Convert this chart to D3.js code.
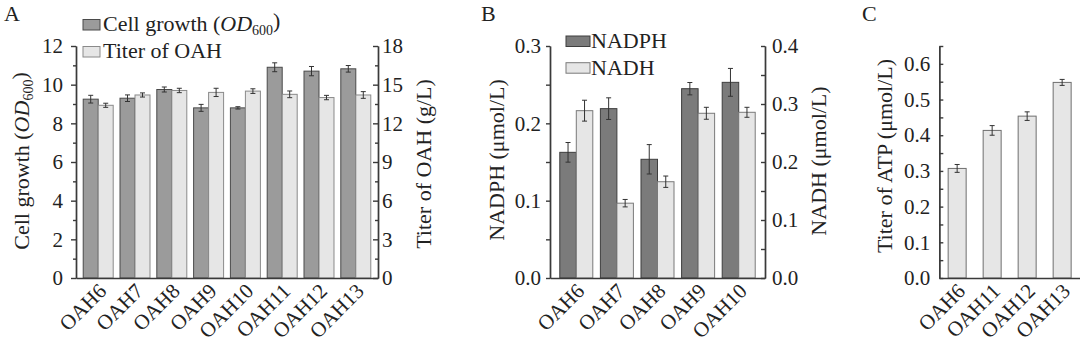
<!DOCTYPE html>
<html>
<head>
<meta charset="utf-8">
<script src="https://cdn.jsdelivr.net/npm/d3@7"></script>
<style>
  body { margin: 0; background: #fff; }
  svg { display: block; font-family: "Liberation Serif", "DejaVu Serif", serif; }
  .axis path, .axis line { stroke: #3a3a3a; stroke-width: 1.4; }
  .axis text { font-size: 21px; fill: #222; font-family: "Liberation Serif", serif; }
</style>
</head>
<body>
<script>
// panel A
var strainsA = ['OAH6', 'OAH7', 'OAH8', 'OAH9', 'OAH10', 'OAH11', 'OAH12', 'OAH13'];
var growth = [9.25, 9.3, 9.75, 8.8, 8.8, 10.9, 10.7, 10.82];
var growthErr = [0.2, 0.17, 0.13, 0.18, 0.06, 0.23, 0.24, 0.17];
var titerOAH = [13.4, 14.2, 14.55, 14.4, 14.5, 14.25, 14.0, 14.2];
var titerOAHErr = [0.16, 0.16, 0.17, 0.32, 0.18, 0.26, 0.17, 0.26];
var ticksA = [0, 2, 4, 6, 8, 10, 12];
var ticksA2 = [0, 3, 6, 9, 12, 15, 18];

// panel B
var strainsB = ['OAH6', 'OAH7', 'OAH8', 'OAH9', 'OAH10'];
var nadph = [0.1625, 0.219, 0.1535, 0.2448, 0.253];
var nadphErr = [0.0127, 0.014, 0.019, 0.008, 0.018];
var nadh = [0.2885, 0.129, 0.166, 0.284, 0.2857];
var nadhErr = [0.018, 0.0064, 0.0098, 0.0103, 0.0086];
var ticksB = [0, 0.1, 0.2, 0.3];
var ticksB2 = [0, 0.1, 0.2, 0.3, 0.4];

// panel C
var strainsC = ['OAH6', 'OAH11', 'OAH12', 'OAH13'];
var atp = [0.307, 0.4135, 0.4535, 0.548];
var atpErr = [0.011, 0.0135, 0.012, 0.0084];
var ticksC = [0, 0.1, 0.2, 0.3, 0.4, 0.5, 0.6];

var width = 1080, height = 347;
var plotTop = 46, plotBottom = 278;

var svg = d3.select('body').append('svg')
    .attr('width', width)
    .attr('height', height);

function minors(major) {
    var out = [];
    for (var i = 0; i < major.length - 1; i++) out.push((major[i] + major[i + 1]) / 2);
    return out;
}

function errBar(g, x, y, v, e, cap) {
    g.append('line').attr('x1', x).attr('x2', x).attr('y1', y(v - e)).attr('y2', y(v + e))
        .attr('stroke', '#333').attr('stroke-width', 1);
    [v - e, v + e].forEach(function (t) {
        g.append('line').attr('x1', x - cap).attr('x2', x + cap).attr('y1', y(t)).attr('y2', y(t))
            .attr('stroke', '#333').attr('stroke-width', 1);
    });
}

function xLabels(x, cats) {
    svg.append('g')
        .selectAll('text')
        .data(cats)
        .join('text')
        .attr('transform', function (d) {
            return 'translate(' + (x(d) + x.bandwidth() / 2 - 1) + ',' + (plotBottom + 4) + ') rotate(-45)';
        })
        .attr('text-anchor', 'end')
        .attr('dy', '0.7em')
        .style('font-size', '21px')
        .style('fill', '#222')
        .text(function (d) { return d; });
}

function vTitle(x, y, parts) {
    var t = svg.append('text')
        .attr('transform', 'translate(' + x + ',' + y + ') rotate(-90)')
        .attr('text-anchor', 'middle')
        .style('font-size', '22px')
        .style('fill', '#222');
    parts.forEach(function (p) {
        var s = t.append('tspan').text(p.t);
        if (p.i) s.style('font-style', 'italic');
        if (p.sub) s.style('font-size', '14px').attr('dy', '0.3em');
        if (p.up) s.attr('dy', '-0.3em');
    });
    return t;
}

function panelLetter(x, s) {
    svg.append('text').attr('x', x).attr('y', 21).style('font-size', '22px').style('fill', '#222').text(s);
}

// ---------- Panel A ----------
var xA = d3.scaleBand().domain(strainsA).range([76, 378]).paddingInner(0.185).paddingOuter(0.196);
var subA = d3.scaleBand().domain([0, 1]).range([0, xA.bandwidth()]);
var yA = d3.scaleLinear().domain([0, 12]).range([plotBottom, plotTop]);
var yA2 = d3.scaleLinear().domain([0, 18]).range([plotBottom, plotTop]);

var gA = svg.append('g');
gA.selectAll('rect.g')
    .data(strainsA)
    .join('rect')
    .attr('x', function (d) { return xA(d); })
    .attr('y', function (d, i) { return yA(growth[i]); })
    .attr('width', subA.bandwidth())
    .attr('height', function (d, i) { return plotBottom - yA(growth[i]); })
    .attr('fill', '#9b9b9b').attr('stroke', '#4a4a4a').attr('stroke-width', 1);
gA.selectAll('rect.t')
    .data(strainsA)
    .join('rect')
    .attr('x', function (d) { return xA(d) + subA(1); })
    .attr('y', function (d, i) { return yA2(titerOAH[i]); })
    .attr('width', subA.bandwidth())
    .attr('height', function (d, i) { return plotBottom - yA2(titerOAH[i]); })
    .attr('fill', '#e6e6e6').attr('stroke', '#8a8a8a').attr('stroke-width', 1);
strainsA.forEach(function (d, i) {
    errBar(gA, xA(d) + subA.bandwidth() / 2, yA, growth[i], growthErr[i], 2.5);
    errBar(gA, xA(d) + subA(1) + subA.bandwidth() / 2, yA2, titerOAH[i], titerOAHErr[i], 2.5);
});

svg.append('g').attr('class', 'axis').attr('transform', 'translate(76,0)')
    .call(d3.axisLeft(yA).tickValues(ticksA).tickSize(5).tickPadding(8).tickSizeOuter(0));
svg.append('g').attr('class', 'axis').attr('transform', 'translate(76,0)')
    .call(d3.axisLeft(yA).tickValues(minors(ticksA)).tickSize(3).tickFormat('').tickSizeOuter(0));
svg.append('g').attr('class', 'axis').attr('transform', 'translate(378,0)')
    .call(d3.axisRight(yA2).tickValues(ticksA2).tickSizeInner(-5).tickPadding(4).tickSizeOuter(0));
svg.append('g').attr('class', 'axis').attr('transform', 'translate(378,0)')
    .call(d3.axisRight(yA2).tickValues(minors(ticksA2)).tickSizeInner(-3).tickFormat('').tickSizeOuter(0));
svg.append('g').attr('class', 'axis').attr('transform', 'translate(0,' + plotBottom + ')')
    .call(d3.axisBottom(d3.scaleLinear().range([76, 378])).ticks(0).tickSizeOuter(0));
xLabels(xA, strainsA);

vTitle(29, 161, [{ t: 'Cell growth (' }, { t: 'OD', i: true }, { t: '600', sub: true }, { t: ')', up: true }]);
vTitle(431, 164, [{ t: 'Titer of OAH (g/L)' }]);
panelLetter(4, 'A');

// legend A
var legA = [{ t: 'Cell growth (', fill: '#9b9b9b', stroke: '#4a4a4a' }, { t: 'Titer of OAH', fill: '#e6e6e6', stroke: '#8a8a8a' }];
legA.forEach(function (l, i) {
    var y0 = 19.5 + i * 27;
    svg.append('rect').attr('x', 83).attr('y', y0).attr('width', 17).attr('height', 10.5)
        .attr('fill', l.fill).attr('stroke', l.stroke).attr('stroke-width', 1);
    var t = svg.append('text').attr('x', 103).attr('y', y0 + 11).style('font-size', '22px').style('fill', '#222');
    t.append('tspan').text(l.t);
    if (i === 0) {
        t.append('tspan').text('OD').style('font-style', 'italic');
        t.append('tspan').text('600').style('font-size', '14px').attr('dy', '0.3em');
        t.append('tspan').text(')').attr('dy', '-0.3em');
    }
});

// ---------- Panel B ----------
var xB = d3.scaleBand().domain(strainsB).range([550, 765]).paddingInner(0.187).paddingOuter(0.241);
var subB = d3.scaleBand().domain([0, 1]).range([0, xB.bandwidth()]);
var yB = d3.scaleLinear().domain([0, 0.3]).range([plotBottom, plotTop]);
var yB2 = d3.scaleLinear().domain([0, 0.4]).range([plotBottom, plotTop]);

var gB = svg.append('g');
gB.selectAll('rect.p')
    .data(strainsB)
    .join('rect')
    .attr('x', function (d) { return xB(d); })
    .attr('y', function (d, i) { return yB(nadph[i]); })
    .attr('width', subB.bandwidth())
    .attr('height', function (d, i) { return plotBottom - yB(nadph[i]); })
    .attr('fill', '#7b7b7b').attr('stroke', '#3e3e3e').attr('stroke-width', 1);
gB.selectAll('rect.h')
    .data(strainsB)
    .join('rect')
    .attr('x', function (d) { return xB(d) + subB(1); })
    .attr('y', function (d, i) { return yB2(nadh[i]); })
    .attr('width', subB.bandwidth())
    .attr('height', function (d, i) { return plotBottom - yB2(nadh[i]); })
    .attr('fill', '#e6e6e6').attr('stroke', '#7a7a7a').attr('stroke-width', 1);
strainsB.forEach(function (d, i) {
    errBar(gB, xB(d) + subB.bandwidth() / 2, yB, nadph[i], nadphErr[i], 2.5);
    errBar(gB, xB(d) + subB(1) + subB.bandwidth() / 2, yB2, nadh[i], nadhErr[i], 2.5);
});

svg.append('g').attr('class', 'axis').attr('transform', 'translate(550,0)')
    .call(d3.axisLeft(yB).tickValues(ticksB).tickSize(4).tickPadding(5).tickFormat(d3.format('.1f')).tickSizeOuter(0));
svg.append('g').attr('class', 'axis').attr('transform', 'translate(550,0)')
    .call(d3.axisLeft(yB).tickValues(minors(ticksB)).tickSize(4).tickFormat('').tickSizeOuter(0));
svg.append('g').attr('class', 'axis').attr('transform', 'translate(765,0)')
    .call(d3.axisRight(yB2).tickValues(ticksB2).tickSizeInner(-4).tickPadding(7).tickFormat(d3.format('.1f')).tickSizeOuter(0));
svg.append('g').attr('class', 'axis').attr('transform', 'translate(765,0)')
    .call(d3.axisRight(yB2).tickValues(minors(ticksB2)).tickSizeInner(-4).tickFormat('').tickSizeOuter(0));
svg.append('g').attr('class', 'axis').attr('transform', 'translate(0,' + plotBottom + ')')
    .call(d3.axisBottom(d3.scaleLinear().range([550, 765])).ticks(0).tickSizeOuter(0));
xLabels(xB, strainsB);

vTitle(504, 160, [{ t: 'NADPH (μmol/L)' }]);
vTitle(826, 161, [{ t: 'NADH (μmol/L)' }]);
panelLetter(481, 'B');

var legB = [{ t: 'NADPH', fill: '#7b7b7b', stroke: '#3e3e3e' }, { t: 'NADH', fill: '#e6e6e6', stroke: '#7a7a7a' }];
legB.forEach(function (l, i) {
    var y0 = 36 + i * 26.7;
    svg.append('rect').attr('x', 566).attr('y', y0).attr('width', 24).attr('height', 10.5)
        .attr('fill', l.fill).attr('stroke', l.stroke).attr('stroke-width', 1);
    svg.append('text').attr('x', 591).attr('y', y0 + 12).style('font-size', '22px').style('fill', '#222').text(l.t);
});

// ---------- Panel C ----------
var xC = d3.scaleBand().domain(strainsC).range([939.3, 1080]).paddingInner(0.486).paddingOuter(0.253);
var yC = d3.scaleLinear().domain([0, 0.65]).range([plotBottom, plotTop]);

var gC = svg.append('g');
gC.selectAll('rect')
    .data(strainsC)
    .join('rect')
    .attr('x', function (d) { return xC(d); })
    .attr('y', function (d, i) { return yC(atp[i]); })
    .attr('width', xC.bandwidth())
    .attr('height', function (d, i) { return plotBottom - yC(atp[i]); })
    .attr('fill', '#e6e6e6').attr('stroke', '#6e6e6e').attr('stroke-width', 1);
strainsC.forEach(function (d, i) {
    errBar(gC, xC(d) + xC.bandwidth() / 2, yC, atp[i], atpErr[i], 2.5);
});

svg.append('g').attr('class', 'axis').attr('transform', 'translate(939.3,0)')
    .call(d3.axisLeft(yC).tickValues(ticksC).tickSizeInner(-4).tickPadding(9).tickFormat(d3.format('.1f')).tickSizeOuter(0));
svg.append('g').attr('class', 'axis').attr('transform', 'translate(939.3,0)')
    .call(d3.axisLeft(yC).tickValues(minors(ticksC).concat([0.65])).tickSizeInner(-4).tickFormat('').tickSizeOuter(0));
svg.append('g').attr('class', 'axis').attr('transform', 'translate(0,' + plotBottom + ')')
    .call(d3.axisBottom(d3.scaleLinear().range([939.3, 1080])).ticks(0).tickSizeOuter(0));
xLabels(xC, strainsC);

vTitle(892, 156, [{ t: 'Titer of ATP (μmol/L)' }]);
panelLetter(862, 'C');
</script>
</body>
</html>
